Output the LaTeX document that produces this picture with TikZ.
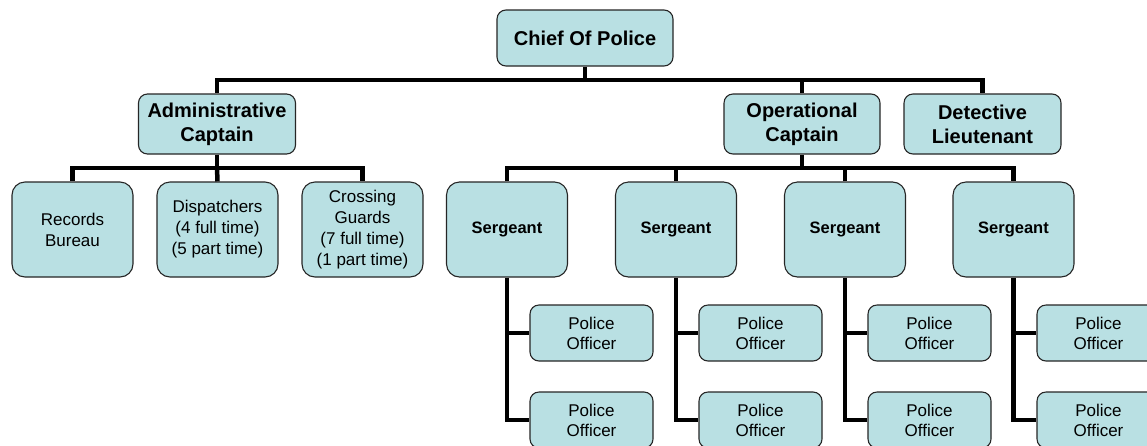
\documentclass[tikz,border=0pt]{standalone}
\usepackage{fontspec}
\setmainfont{Liberation Sans}
\usepackage{tikz}
\definecolor{boxfill}{RGB}{185,224,227}
\tikzset{
  box/.style={draw=black!85, fill=boxfill, line width=1.1pt, rounded corners=9pt, align=center, inner sep=0pt},
  head/.style={box, font=\fontsize{20}{24}\selectfont\bfseries},
  unit/.style={box, minimum width=121pt, minimum height=95pt, rounded corners=13pt, font=\fontsize{17}{21}\selectfont},
  sgt/.style={unit, font=\fontsize{16.5}{20}\selectfont\bfseries},
  officer/.style={box, minimum width=123pt, minimum height=56pt, font=\fontsize{17}{20}\selectfont},
  link/.style={line width=4.5pt}
}
\begin{document}
\begin{tikzpicture}[x=1pt,y=-1pt]
\clip (0,0) rectangle (1147,445);
\fill [white] (0,0) rectangle (1147,445);
\node [head, minimum width=176pt, minimum height=56pt] (chief) at (585,38) {Chief Of Police};
\node [head, minimum width=157pt, minimum height=60pt] (admin) at (217,124) {Administrative\\Captain};
\node [head, minimum width=156pt, minimum height=60pt] (oper) at (802,124) {Operational\\Captain};
\node [head, minimum width=157pt, minimum height=60pt] (detect) at (982.5,124) {Detective\\Lieutenant};
\node [unit] (records) at (72.5,229.5) {Records\\Bureau};
\node [unit] (dispatch) at (217.5,229.5) {Dispatchers\\(4 full time)\\(5 part time)};
\node [unit] (crossing) at (362.5,229.5) {Crossing\\Guards\\(7 full time)\\(1 part time)};
\node [sgt] (sgt1) at (507,229.5) {Sergeant};
\node [sgt] (sgt2) at (676,229.5) {Sergeant};
\node [sgt] (sgt3) at (845,229.5) {Sergeant};
\node [sgt] (sgt4) at (1013.5,229.5) {Sergeant};
\node [officer] (po1a) at (591.5,333) {Police\\Officer};
\node [officer] (po1b) at (591.5,420) {Police\\Officer};
\node [officer] (po2a) at (760.5,333) {Police\\Officer};
\node [officer] (po2b) at (760.5,420) {Police\\Officer};
\node [officer] (po3a) at (929.5,333) {Police\\Officer};
\node [officer] (po3b) at (929.5,420) {Police\\Officer};
\node [officer] (po4a) at (1098.5,333) {Police\\Officer};
\node [officer] (po4b) at (1098.5,420) {Police\\Officer};
% lines
\coordinate (topbus) at (585,80);
\draw [link] (chief) -- (topbus);
\draw [link] (admin.north) |- (topbus) -| (detect.north);
\draw [link] (oper.north) |- (topbus);
\coordinate (adminbus) at (217,168);
\draw [link] (admin.south) -- (adminbus);
\draw [link] (records.north) |- (adminbus) -| (crossing.north);
\draw [link] (dispatch.north) -- (adminbus);
\coordinate (operbus) at (802,168);
\draw [link] (oper.south) -- (operbus);
\draw [link] (sgt1.north) |- (operbus) -| (sgt4.north);
\draw [link] (sgt2.north) |- (operbus);
\draw [link] (sgt3.north) |- (operbus);
\draw [link] (sgt1.south) |- (po1b.west);
\draw [link] (sgt1.south |- po1a.west) -- (po1a.west);
\draw [link] (sgt2.south) |- (po2b.west);
\draw [link] (sgt2.south |- po2a.west) -- (po2a.west);
\draw [link] (sgt3.south) |- (po3b.west);
\draw [link] (sgt3.south |- po3a.west) -- (po3a.west);
\draw [link] (sgt4.south) |- (po4b.west);
\draw [link] (sgt4.south |- po4a.west) -- (po4a.west);
\end{tikzpicture}
\end{document}
